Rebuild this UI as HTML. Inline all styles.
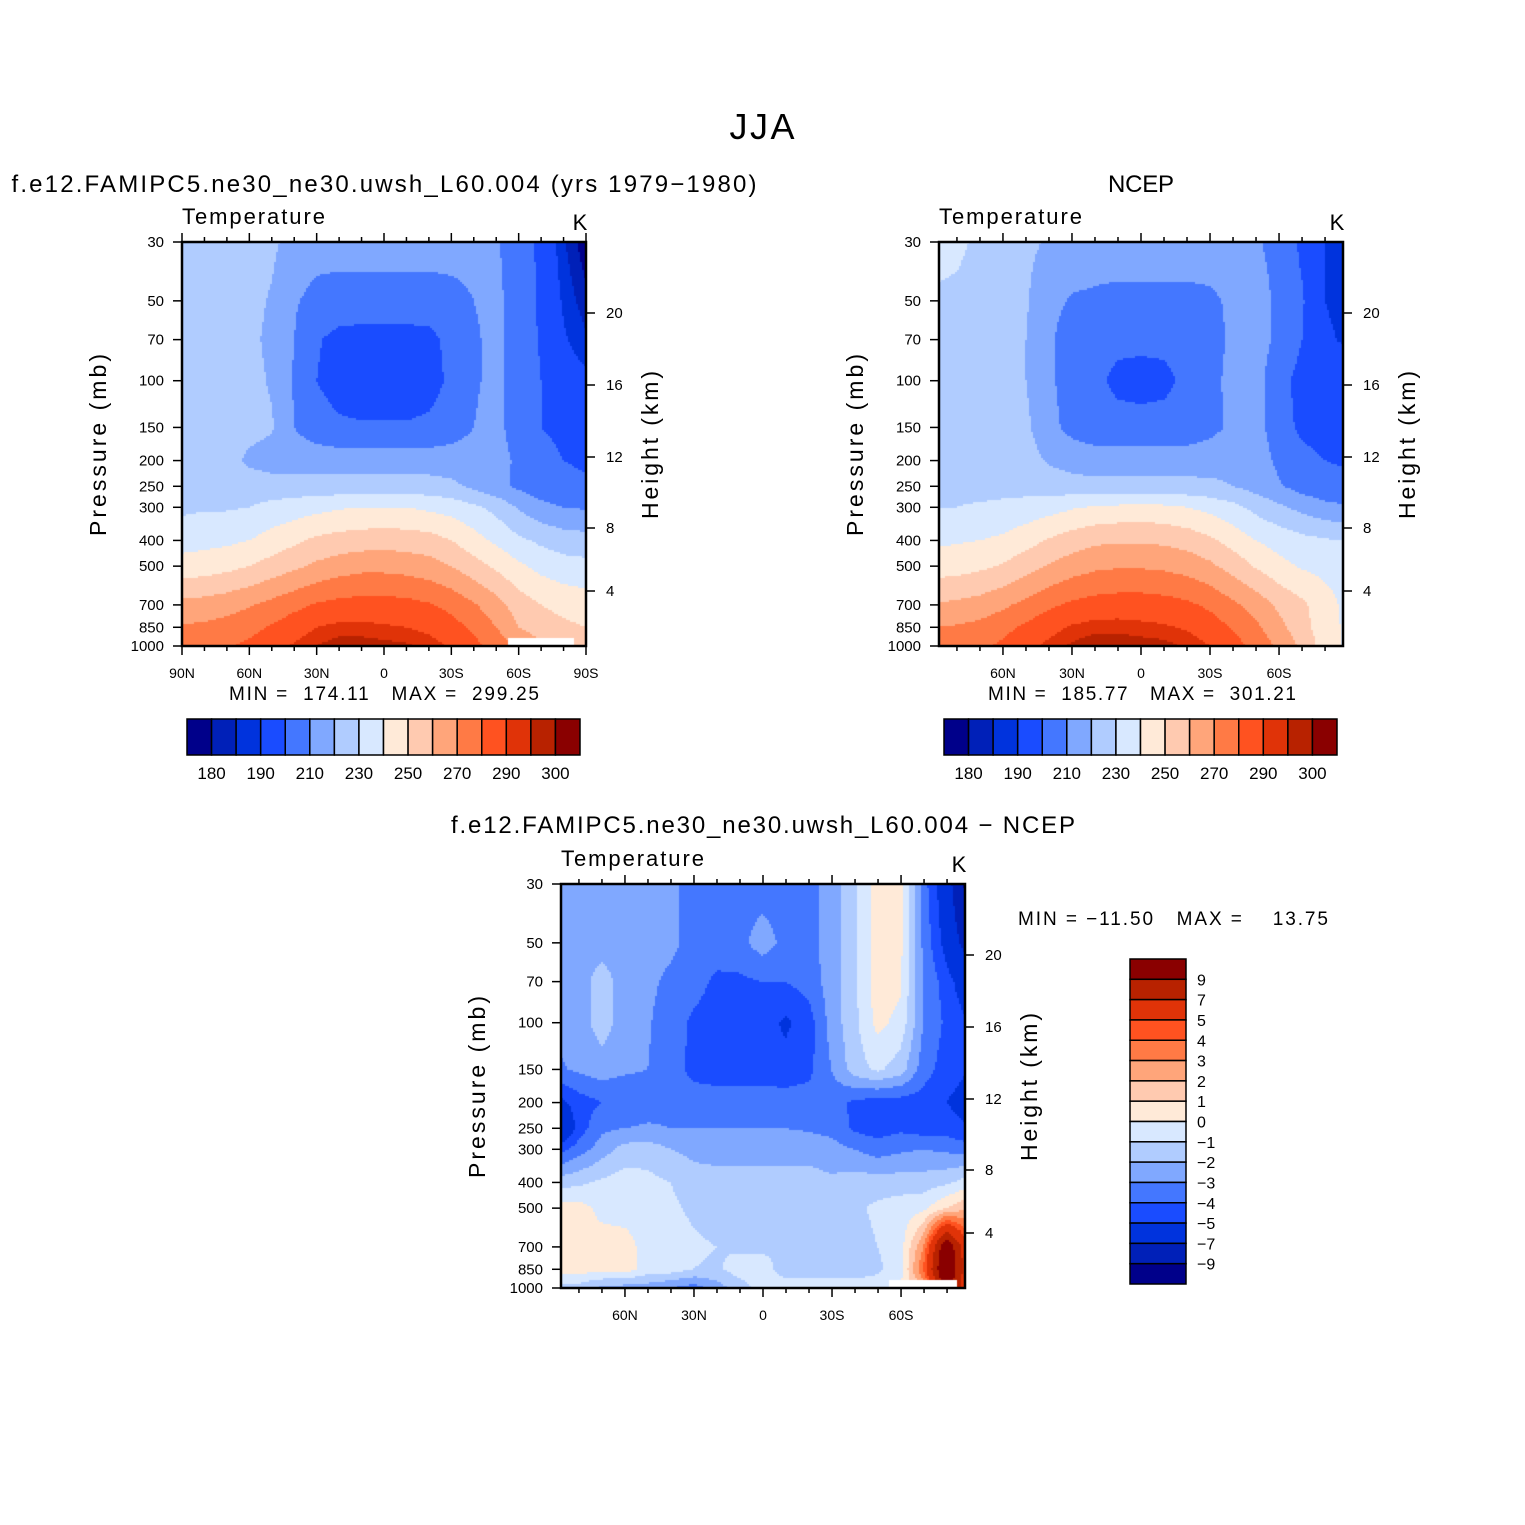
<!DOCTYPE html>
<html><head><meta charset="utf-8">
<style>
html,body{margin:0;padding:0;background:#fff;}
#root{position:relative;width:1525px;height:1525px;overflow:hidden;font-family:"Liberation Sans",sans-serif;}
canvas{position:absolute;}
svg{position:absolute;left:0;top:0;}
</style></head>
<body>
<div id="root">
<canvas id="c1" width="404" height="404" style="left:182px;top:242px"></canvas>
<canvas id="c2" width="404" height="404" style="left:939px;top:242px"></canvas>
<canvas id="c3" width="403" height="404" style="left:561px;top:884px"></canvas>
<svg id="ov" width="1525" height="1525"></svg>
</div>
<script>
// ---- data ----
const lats = [90,80,70,60,50,40,30,20,10,0,-10,-20,-30,-40,-50,-60,-70,-80,-90];
const plevs = [30,50,70,100,150,200,250,300,400,500,700,850,1000];
const tempLevels = [180,185,190,200,210,220,230,240,250,260,270,280,290,295,300];
const tempLabels = ["180","190","210","230","250","270","290","300"];
const diffLevels = [-9,-7,-5,-4,-3,-2,-1,0,1,2,3,4,5,7,9];
const diffLabels = ["9","7","5","4","3","2","1","0","−1","−2","−3","−4","−5","−7","−9"];
const heightTicks = [20,16,12,8,4];
const palette = ["#00008a","#0020b8","#0033dd","#1a4cff","#4477ff","#80a8ff","#b0ccff","#d8e8ff","#ffead8","#ffcab0","#ffa57a","#ff7a45","#ff5220","#e03308","#b82200","#8a0000"];
const modelT = [
[226,226,226,225,222,216,214,214,214,214,214,214,214,213,211,205,198,186,176],
[226,226,225,223,219,211,207,206,206,206,206,206,207,210,212,206,198,189,182],
[226,226,225,222,218,210,201,197,196,196,196,197,203,209,212,206,199,191,186],
[226,226,225,223,219,209,200,195,194,194,194,196,202,209,212,206,200,194,192],
[226,226,225,223,221,210,205,202,201,201,201,202,205,210,213,205,200,198,196],
[227,226,224,218,216,215,215,215,215,215,215,215,215,215,214,208,203,200,199],
[228,227,226,225,224,224,224,224,224,224,224,224,222,218,213,208,204,202,201],
[228,229,229,230,233,235,237,239,240,240,240,238,236,232,227,219,213,210,209],
[236,237,238,240,244,248,252,254,255,256,255,254,250,244,238,232,228,225,224],
[244,245,247,250,254,258,262,265,267,267,266,264,260,254,248,242,237,234,233],
[263,264,266,269,273,277,281,283,284,284,283,281,277,271,264,255,250,247,245],
[271,272,274,277,281,286,290,292,292,291,290,288,284,278,270,260,255,252,250],
[276,277,279,282,286,291,295,298,298,297,296,293,289,283,276,268,262,258,256]];
const modelSurfP = [1100,1100,1100,1100,1100,1100,1100,1100,1100,1100,1100,1100,1100,1100,1100,925,925,925,1100];
const ncepT = [
[233,232,228,226,222,219,217,216,216,216,216,216,216,215,211,207,198,190,188],
[229,228,226,225,221,213,209,208,207,207,207,207,208,212,214,208,201,190,188],
[228,228,226,225,220,212,204,203,202,202,202,203,206,212,214,208,200,191,189],
[227,227,226,225,220,212,205,202,198,197,198,202,207,213,214,203,197,194,193],
[227,227,226,225,222,213,207,204,203,203,203,204,207,212,214,204,198,196,195],
[227,227,226,225,224,219,216,215,215,215,215,215,216,217,215,208,203,200,199],
[228,228,227,227,226,225,224,223,223,223,223,223,222,220,216,211,206,203,202],
[230,230,231,232,234,236,239,241,242,243,242,240,237,233,227,222,217,213,211],
[238,239,240,242,246,251,255,258,259,259,258,256,252,246,240,236,233,231,230],
[245,246,248,251,256,261,265,268,269,269,268,266,262,256,249,243,239,237,236],
[261,262,264,268,273,278,282,284,285,285,284,282,278,272,266,258,252,244,237],
[270,271,273,277,282,287,291,293,293,292,291,289,285,279,272,263,254,244,238],
[274,275,278,282,287,292,296,299,299,298,297,294,290,284,277,268,258,245,238]];
const ncepSurfP = [1100,1100,1100,1100,1100,1100,1100,1100,1100,1100,1100,1100,1100,1100,1100,1100,1100,1100,1100];
const diffT = [
[-2.5,-2.5,-2.5,-2.5,-2.6,-2.8,-3.3,-3.5,-3.5,-3.5,-3.5,-3.4,-2.5,-1.2,0.5,0.3,-3.5,-6,-10],
[-2.5,-2.5,-2.5,-2.5,-2.6,-2.8,-3.3,-3.5,-3.3,-2.5,-3.3,-3.4,-2.5,-1.2,0.5,0.3,-3.2,-5.5,-8],
[-2.7,-2.5,-1.5,-2.5,-2.8,-3.2,-3.6,-4.2,-4.2,-4.0,-4.0,-3.6,-2.5,-1.2,0.5,0.2,-3,-4.5,-6],
[-2.8,-2.5,-1.5,-2.5,-2.9,-3.5,-4.2,-4.5,-4.5,-4.5,-5.2,-4.5,-2.6,-1.3,0.3,-0.3,-3,-4.2,-5],
[-3.2,-2.8,-2.5,-2.8,-3.0,-3.5,-4.3,-4.5,-4.5,-4.5,-4.6,-4.3,-3.0,-1.5,-0.8,-1.5,-3.5,-4.5,-5],
[-5.5,-4.5,-4.0,-4.0,-3.7,-3.5,-3.5,-3.5,-3.5,-3.5,-3.5,-3.5,-3.6,-4.2,-4.5,-4.5,-4.5,-5,-5.5],
[-7.5,-4.5,-3.2,-3.0,-2.8,-3.0,-3.0,-3.0,-3.0,-3.0,-3.0,-3.1,-3.3,-4.2,-4.5,-4.2,-4.5,-4.5,-5],
[-4.5,-3.5,-2.5,-1.6,-1.5,-2.0,-2.3,-2.5,-2.5,-2.5,-2.5,-2.5,-2.6,-3.0,-3.5,-3.2,-3.0,-3.2,-3.5],
[-1.5,-1.2,-0.8,-0.5,-0.7,-1.0,-1.5,-1.5,-1.5,-1.5,-1.5,-1.5,-1.8,-1.5,-1.5,-1.5,-1.5,-1.2,-0.5],
[0.5,0.4,-0.3,-0.5,-0.5,-0.8,-1.2,-1.5,-1.5,-1.5,-1.5,-1.5,-1.5,-1.2,-0.8,-0.5,-0.3,1,2],
[0.5,0.3,0.5,0.5,-0.5,-0.5,-0.8,-1,-1.2,-1.2,-1.2,-1.5,-1.5,-1.5,-1,-0.5,3,11,5],
[0.5,0.5,0.3,0.5,-0.5,-0.5,-1,-1.2,-0.5,-0.5,-1.5,-1.5,-1.5,-1.5,-1.2,-0.5,4,12,5],
[-1.5,-1.5,-2.2,-2.5,-2.5,-3,-3.5,-2.5,-1.5,-0.5,-0.5,-0.5,-0.5,-0.5,-0.5,0,2,10,5]];
const diffSurfP = [1100,1100,1100,1100,1100,1100,1100,1100,1100,1100,1100,1100,1100,1100,1100,925,925,925,1100];

// ---- scales ----
const LNR = Math.log(1000/30);
function yOfP(top,p){return top + 404*Math.log(p/30)/LNR;}
function pOfY(top,y){return 30*Math.exp((y-top)/404*LNR);}
function colorIdx(v,levels){let i=0;while(i<levels.length&&v>=levels[i])i++;return i;}
function sample(grid,lat,p){
  let fi=(90-lat)/10; if(fi<0)fi=0; if(fi>18)fi=18;
  let i0=Math.min(17,Math.floor(fi)), tx=fi-i0;
  let k=0; while(k<plevs.length-2 && p>plevs[k+1]) k++;
  let ty=Math.log(p/plevs[k])/Math.log(plevs[k+1]/plevs[k]); ty=Math.max(0,Math.min(1,ty));
  const a=grid[k][i0],b=grid[k][i0+1],c=grid[k+1][i0],d=grid[k+1][i0+1];
  return (a*(1-tx)+b*tx)*(1-ty)+(c*(1-tx)+d*tx)*ty;
}
function drawField(id,grid,surf,levels,latL,latR){
  const cv=document.getElementById(id),ctx=cv.getContext('2d');
  const W=cv.width,H=cv.height,s=2;
  for(let y=0;y<H;y+=s){
    const p=pOfY(0,y+s/2);
    for(let x=0;x<W;x+=s){
      const lat=latL+(latR-latL)*(x+s/2)/W;
      const si=Math.round((90-lat)/10);
      if(p>surf[Math.max(0,Math.min(18,si))])continue;
      ctx.fillStyle=palette[colorIdx(sample(grid,lat,p),levels)];
      ctx.fillRect(x,y,s,s);
    }
  }
}
drawField('c1',modelT,modelSurfP,tempLevels,90,-90);
drawField('c2',ncepT,ncepSurfP,tempLevels,87.8,-87.8);
drawField('c3',diffT,diffSurfP,diffLevels,87.8,-87.8);

// ---- overlay ----
const NS="http://www.w3.org/2000/svg",ov=document.getElementById('ov');
function el(tag,attrs,txt){const e=document.createElementNS(NS,tag);for(const k in attrs)e.setAttribute(k,attrs[k]);if(txt!==undefined)e.textContent=txt;ov.appendChild(e);return e;}
function txt(x,y,s,size,anchor,name,rot,tl){
  const e=el('text',{x:x,y:y,'font-size':size,'text-anchor':anchor||'start','font-family':'Liberation Sans, sans-serif',fill:'#000'},s);
  e.style.whiteSpace='pre';
  if(tl){e.setAttribute('textLength',tl);e.setAttribute('lengthAdjust','spacing');}
  if(rot)e.setAttribute('transform','rotate(-90 '+x+' '+y+')');
  
  
  return e;
}
function line(x1,y1,x2,y2,w,name){
  const e=el('line',{x1:x1,y1:y1,x2:x2,y2:y2,stroke:'#000','stroke-width':w||1.5});
  
  
}
const hgtY=[313,385,457,528,591];
function panel(L,T,latL,latR,latTicks,latLbls,pre){
  const R=L+404,B=T+404;
  const fr=el('rect',{x:L,y:T,width:R-L,height:404,fill:'none',stroke:'#000','stroke-width':2.5});
  
  
  const xl=lat=>L+(latL-lat)/(latL-latR)*404;
  for(let lat=90;lat>=-90;lat-=10){
    const x=xl(lat); if(x<L-0.5||x>R+0.5)continue;
    const major=lat%30===0;
    line(x,T,x,T-(major?9:5),1.5,pre+'-top-tick');
    line(x,B,x,B+(major?9:5),1.5,pre+'-bottom-tick');
  }
  latTicks.forEach((lat,i)=>txt(xl(lat),B+32,latLbls[i],14,'middle',pre+'-lat-label'));
  plevs.forEach(p=>{const y=yOfP(T,p);line(L,y,L-9,y,1.5,pre+'-pressure-tick');txt(L-18,y+5,String(p),15,'end',pre+'-pressure-label');});
  heightTicks.forEach((h,i)=>{const y=hgtY[i]+(T-242);line(R,y,R+9,y,1.5,pre+'-height-tick');txt(R+20,y+5,String(h),15,'start',pre+'-height-label');});
  txt(L,T-18,'Temperature',22,'start',pre+'-field-name',false,143);
  txt(R-6,T-12,'K',22,'middle',pre+'-units');
  txt(L-76,T+203,'Pressure (mb)',23,'middle',pre+'-y-axis-title',true,182);
  txt(R+72,T+203,'Height (km)',23,'middle',pre+'-right-axis-title',true,148);
}
panel(182,242,90,-90,[90,60,30,0,-30,-60,-90],["90N","60N","30N","0","30S","60S","90S"],'model');
panel(939,242,87.8,-87.8,[60,30,0,-30,-60],["60N","30N","0","30S","60S"],'ncep');
panel(561,884,87.8,-87.8,[60,30,0,-30,-60],["60N","30N","0","30S","60S"],'diff');

txt(762,139,'JJA',36,'middle','main-title',false,65);
txt(384,192,'f.e12.FAMIPC5.ne30_ne30.uwsh_L60.004 (yrs 1979−1980)',24,'middle','model-panel-title',false,745);
txt(1141,192,'NCEP',24,'middle','ncep-panel-title',false,66);
txt(763,833,'f.e12.FAMIPC5.ne30_ne30.uwsh_L60.004 − NCEP',24,'middle','diff-panel-title',false,624);
txt(384,700,'MIN =  174.11   MAX =  299.25',19,'middle','model-min-max',false,310);
txt(1142,700,'MIN =  185.77   MAX =  301.21',19,'middle','ncep-min-max',false,308);
txt(1173,925,'MIN = −11.50   MAX =    13.75',19,'middle','diff-min-max',false,310);

function hbar(L,pre){
  const w=(393)/16;
  palette.forEach((c,i)=>{const r=el('rect',{x:L+i*w,y:719,width:w,height:36,fill:c,stroke:'#000','stroke-width':1.5});
    
    });
  tempLabels.forEach((s,j)=>{const b=[1,3,5,7,9,11,13,15][j];txt(L+b*w,779,s,17,'middle',pre+'-colorbar-label');});
}
hbar(187,'model');hbar(944,'ncep');
const vh=325/16;
palette.slice().reverse().forEach((c,i)=>{const r=el('rect',{x:1130,y:959+i*vh,width:56,height:vh,fill:c,stroke:'#000','stroke-width':1.5});
  
  });
diffLabels.forEach((s,j)=>txt(1197,959+(j+1)*vh+6,s,16,'start','diff-colorbar-label'));
</script>
</body></html>
